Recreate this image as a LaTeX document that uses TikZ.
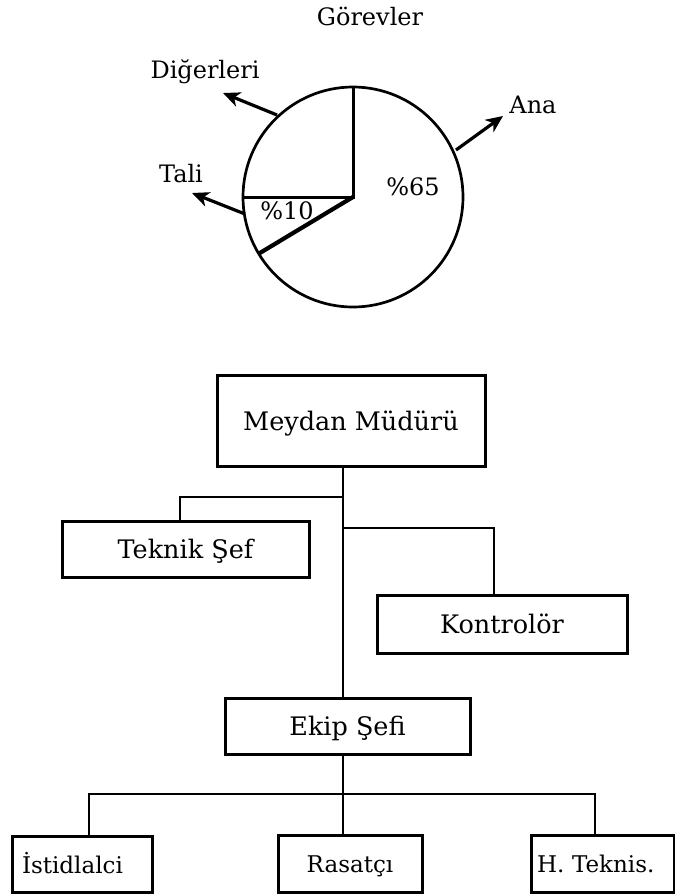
\documentclass[tikz,border=0pt]{standalone}
\usepackage{fontspec}
\setmainfont{DejaVu Serif}
\usetikzlibrary{arrows.meta}
\begin{document}
\begin{tikzpicture}[x=1pt,y=-1pt,
  lbl/.style={font=\fontsize{24}{28}\selectfont, inner sep=0pt, anchor=base},
  box/.style={draw, line width=3pt, rectangle, inner sep=0pt,
    text height=19pt, text depth=0pt, font=\fontsize{25.5}{30}\selectfont},
  smallbox/.style={box, text height=18pt, font=\fontsize{23}{27}\selectfont},
  wire/.style={line width=2.6pt},
  rim/.style={line width=2.7pt},
  radius line/.style={line width=3pt},
  ptr/.style={line width=3.2pt, -{Stealth[length=17pt,width=15pt,inset=5pt]}},
]
\useasboundingbox (0,0) rectangle (675,895);

% ---------- pie chart of duties ----------
\coordinate (pc) at (353,197);
\draw[rim] (pc) circle[radius=110pt];
\draw[radius line] (353,87) -- (pc) -- (243,197);
\draw[line width=4.2pt] (pc) -- (258.7,253.7);

\node[lbl] (title) at (370,25) {Görevler};
\node[lbl] (p65) at (413,195) {\%65};
\node[lbl] (p10) at (287,219) {\%10};
\node[lbl] (digerleri) at (205,78) {Diğerleri};
\node[lbl] (tali) at (181,182) {Tali};
\node[lbl] (ana) at (533,113) {Ana};

\coordinate (dgA) at (277,115);  \coordinate (dgB) at (223,93);
\coordinate (taA) at (245,214);  \coordinate (taB) at (192,193);
\coordinate (anA) at (456,150);  \coordinate (anB) at (503,116);
\draw[ptr] (dgA) -- (dgB);
\draw[ptr] (taA) -- (taB);
\draw[ptr] (anA) -- (anB);

% ---------- organisation chart ----------
\node[box, minimum width=268pt, minimum height=91pt] (mm) at (351,420.5) {Meydan Müdürü};
\node[box, minimum width=247pt, minimum height=56pt] (ts) at (185.5,549) {Teknik Şef};
\node[box, minimum width=250pt, minimum height=58pt] (ko) at (502,624) {Kontrolör};
\node[box, minimum width=245pt, minimum height=56pt] (ek) at (347.5,726) {Ekip Şefi};
\node[smallbox, minimum width=140pt, minimum height=56pt,
      inner xsep=10pt, text width=120pt, align=left] (is) at (82,864) {İstidlalci};
\node[smallbox, minimum width=144pt, minimum height=57pt] (ra) at (350,863.5) {Rasatçı};
\node[smallbox, minimum width=143pt, minimum height=57pt,
      inner xsep=6pt, text width=131pt, align=left] (ht) at (602.5,863.5) {H. Teknis.};

% trunk and branch points
\coordinate (tx) at (343,0);
\coordinate (j1) at (343,497);
\coordinate (j2) at (343,528);
\coordinate (j3) at (343,794);

\draw[wire] (mm.south -| tx) -- (ek.north -| tx);
\draw[wire] (j1) -| ([xshift=-5.5pt]ts.north);
\draw[wire] (j2) -| ([xshift=-8pt]ko.north);
\draw[wire] (ek.south -| tx) -- (j3);
\draw[wire] (j3) -| ([xshift=7pt]is.north);
\draw[wire] (j3) -- (ra.north -| tx);
\draw[wire] (j3) -| ([xshift=-7.5pt]ht.north);
\end{tikzpicture}
\end{document}
